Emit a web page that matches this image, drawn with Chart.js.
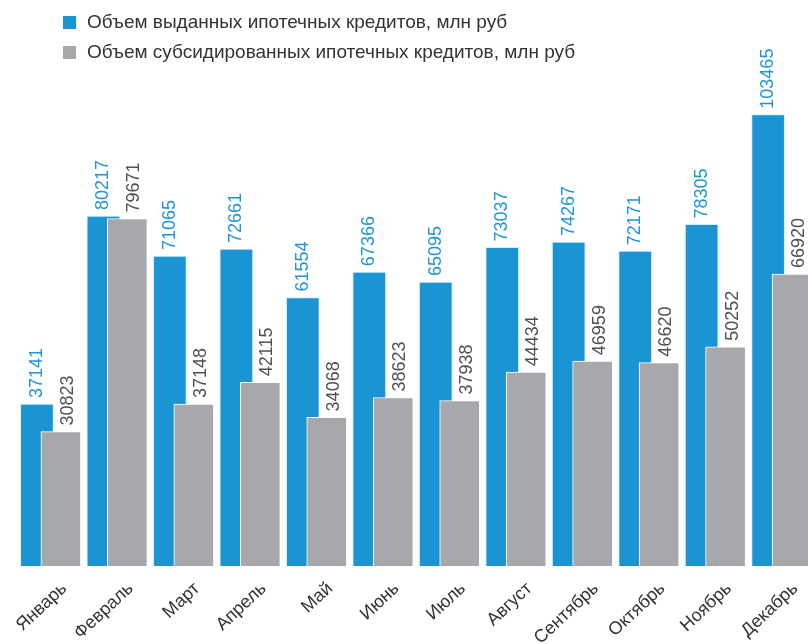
<!DOCTYPE html>
<html lang="ru">
<head>
<meta charset="utf-8">
<script src="https://cdn.jsdelivr.net/npm/chart.js@4.4.1/dist/chart.umd.min.js"></script>
<style>
  body { margin: 0; background: #fff; font-family: "Liberation Sans", Arial, sans-serif; }
  #wrap { position: relative; width: 808px; height: 644px; }
  #legend { position: absolute; left: 63px; top: 7px; font-size: 19px; color: #333; }
  #legend div { height: 30px; line-height: 30px; display: flex; align-items: center; }
  #legend span.box { width: 13px; height: 13px; margin-right: 11px; display: inline-block; }
</style>
</head>
<body>
<div id="wrap">
  <canvas id="mortgageChart" width="808" height="644"></canvas>
  <div id="legend"></div>
</div>
<script>
// data
const months = ['Январь', 'Февраль', 'Март', 'Апрель', 'Май', 'Июнь', 'Июль', 'Август', 'Сентябрь', 'Октябрь', 'Ноябрь', 'Декабрь'];
const issued = [37141, 80217, 71065, 72661, 61554, 67366, 65095, 73037, 74267, 72171, 78305, 103465];
const subsidized = [30823, 79671, 37148, 42115, 34068, 38623, 37938, 44434, 46959, 46620, 50252, 66920];
const seriesNames = ['Объем выданных ипотечных кредитов, млн руб', 'Объем субсидированных ипотечных кредитов, млн руб'];

const BLUE = '#1a94d2';
const GRAY = '#a7a8ab';

// legend in html
const legendEl = document.getElementById('legend');
[BLUE, GRAY].forEach(function (c, i) {
    const row = document.createElement('div');
    row.innerHTML = '<span class="box" style="background:' + c + '"></span>' + seriesNames[i];
    legendEl.appendChild(row);
});

// value labels above bars, rotated
const valueLabels = {
    id: 'valueLabels',
    afterDatasetsDraw(chart) {
        const ctx = chart.ctx;
        chart.data.datasets.forEach(function (ds, di) {
            const meta = chart.getDatasetMeta(di);
            meta.data.forEach(function (bar, i) {
                ctx.save();
                ctx.translate(bar.x + ds.labelShift, bar.y - 6);
                ctx.rotate(-Math.PI / 2);
                ctx.font = '18px "Liberation Sans", Arial, sans-serif';
                ctx.fillStyle = ds.labelColor;
                ctx.textAlign = 'left';
                ctx.textBaseline = 'middle';
                ctx.fillText(String(ds.data[i].y), 0, 0);
                ctx.restore();
            });
        });
    }
};

new Chart(document.getElementById('mortgageChart'), {
    type: 'bar',
    data: {
        datasets: [{
            label: seriesNames[0],
            data: issued.map((v, i) => ({ x: i - 0.2, y: v })),
            backgroundColor: BLUE,
            borderColor: '#d6ecf8',
            borderWidth: 1,
            barThickness: 33,
            grouped: false,
            order: 2,
            labelColor: '#1e96d4',
            labelShift: 0
        }, {
            label: seriesNames[1],
            data: subsidized.map((v, i) => ({ x: i + 0.16, y: v })),
            backgroundColor: GRAY,
            borderColor: '#ffffff',
            borderWidth: 1,
            barThickness: 40,
            grouped: false,
            order: 1,
            labelColor: '#505050',
            labelShift: 7
        }]
    },
    options: {
        responsive: false,
        animation: false,
        layout: { padding: { left: 17, right: 0, top: 60, bottom: 0 } },
        plugins: { legend: { display: false }, tooltip: { enabled: false } },
        scales: {
            x: {
                type: 'linear',
                offset: false,
                min: -0.5,
                max: 11.4,
                grid: { display: false, offset: false },
                border: { display: false },
                afterBuildTicks(scale) {
                    scale.ticks = months.map((m, i) => ({ value: i }));
                },
                afterFit(scale) {
                    scale.height = 78;
                    scale.paddingLeft = 0;
                    scale.paddingRight = 0;
                },
                ticks: {
                    autoSkip: false,
                    minRotation: 43,
                    maxRotation: 43,
                    padding: 4,
                    labelOffset: 14,
                    color: '#333',
                    font: { family: '"Liberation Sans", Arial, sans-serif', size: 18 },
                    callback: (v, i) => months[i]
                }
            },
            y: {
                display: false,
                min: 0,
                max: 116000
            }
        }
    },
    plugins: [valueLabels]
});
</script>
</body>
</html>
